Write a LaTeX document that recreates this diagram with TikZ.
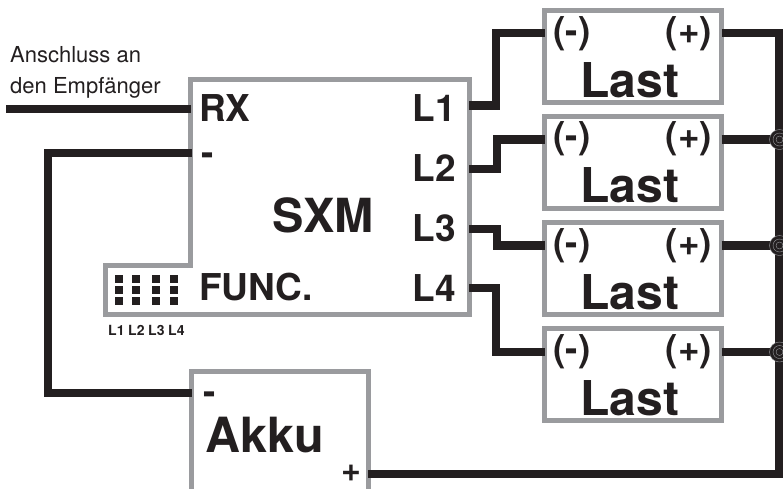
\documentclass[tikz,border=0pt]{standalone}
\usepackage{fontspec}
\setmainfont{TeX Gyre Heros}
\definecolor{wire}{HTML}{231F20}
\definecolor{frame}{HTML}{9A9B9E}
\tikzset{
  wirepath/.style={draw=wire,line width=8.5pt,line join=miter},
  framepath/.style={draw=frame,line width=5pt,line join=miter},
  txt/.style={text=wire,font=\bfseries,inner sep=0pt,anchor=base},
  pol/.style={txt,font=\fontsize{37}{37}\bfseries},
  lastt/.style={txt,font=\fontsize{48}{48}\bfseries},
  term/.style={txt,font=\fontsize{37}{37}\bfseries},
  small/.style={text=wire,font=\fontsize{22}{24}\selectfont,inner sep=0pt,anchor=base west},
  tiny/.style={txt,font=\fontsize{14}{14}\bfseries},
  pin/.style={fill=wire,draw=none,minimum width=8.5pt,minimum height=8.5pt,inner sep=0pt},
  junction/.style={circle,fill=wire,draw=frame,line width=.4pt,minimum size=20pt,inner sep=0pt},
  lastbox/.style={framepath,fill=white,minimum width=177pt,minimum height=92pt,inner sep=0pt,outer sep=0pt,rectangle},
}
\begin{document}
\begin{tikzpicture}[x=1pt,y=-1pt]
\useasboundingbox (0,0) rectangle (783,488);
\coordinate (rxa) at (6,109);
\coordinate (rxb) at (191,109);
\coordinate (ma) at (192,153);
\coordinate (mb) at (192,393);
\coordinate (plus) at (368,474);
\coordinate (bus) at (779.5,474);
\coordinate (bustop) at (779.5,33);
\coordinate (l1) at (469,105.5);
\coordinate (l2) at (469,169);
\coordinate (l3) at (469,229);
\coordinate (l4) at (469,288);
% frames
\node[lastbox] (a) at (633,56.5) {};
\node[lastbox] (b) at (633,162) {};
\node[lastbox] (c) at (633,268.5) {};
\node[lastbox] (d) at (633,374.5) {};
\draw[framepath] (190.5,79.5) -- (469,79.5) -- (469,314) -- (105.5,314) -- (105.5,265.5) -- (190.5,265.5) -- cycle;
\draw[framepath] (191.5,490) -- (191.5,371.5) -- (368.5,371.5) -- (368.5,490);
% wires
\draw[wirepath] (rxa) -- (rxb);
\draw[wirepath] (ma) -| (48,393) -- (mb);
\draw[wirepath] (plus) -- (bus) -- (bustop) -- (a.east |- bustop);
\draw[wirepath] (l1) -| (496,33) -- (a.west |- 0,33);
\draw[wirepath] (l2) -| (497,139.5) -- (b.west |- 0,139.5);
\draw[wirepath] (l3) -| (497,245.5) -- (c.west |- 0,245.5);
\draw[wirepath] (l4) -| (496,352) -- (d.west |- 0,352);
\draw[wirepath] (b.east |- 0,139.5) -- (779.5,139.5);
\draw[wirepath] (c.east |- 0,245.5) -- (779.5,245.5);
\draw[wirepath] (d.east |- 0,352) -- (779.5,352);
\foreach \n/\y in {j1/139.5,j2/245.5,j3/352}{
  \node[junction] (\n) at (779.5,\y) {};
  \draw[frame,line width=.4pt] (\n.center) circle[radius=6.5pt] (\n.center) circle[radius=3.5pt];
}
% Last boxes text
\foreach \y in {0,105.5,212,318}{
  \node[term] at (572,\y+43) {(-)};
  \node[term] at (689,\y+43) {(+)};
  \node[lastt] at (630,\y+97) {Last};
}
\node[pol,anchor=base west] (rx) at (199,121) {RX};
\node[pol,anchor=base west] (mi) at (201,165) {-};
\node[pol,anchor=base east] (tl1) at (456,121) {L1};
\node[pol,anchor=base east] (tl2) at (456,181) {L2};
\node[pol,anchor=base east] (tl3) at (456,241) {L3};
\node[pol,anchor=base east] (tl4) at (456,301) {L4};
\node[pol,anchor=base west] (fu) at (199,300) {FUNC.};
\node[txt,font=\fontsize{47}{47}\bfseries] (sxm) at (323,232) {SXM};
\node[pol,anchor=base west] (am) at (203,404) {-};
\node[txt,font=\fontsize{48.5}{48.5}\bfseries,anchor=base west] (ak) at (205,452) {Akku};
\node[pol,anchor=base west,font=\fontsize{34}{34}\bfseries] (ap) at (341,481) {+};
\node[small] (s1) at (10,62) {Anschluss an};
\node[small] (s2) at (10,93) {den Empfänger};
\foreach \x in {119,136,156,174}{\foreach \y in {279,290,301}{
  \node[pin] at (\x,\y) {};
}}
\node[tiny,anchor=base west] (t1) at (108,335) {L1};
\node[tiny,anchor=base west] (t2) at (128,335) {L2};
\node[tiny,anchor=base west] (t3) at (148,335) {L3};
\node[tiny,anchor=base west] (t4) at (168,335) {L4};
\end{tikzpicture}
\end{document}
